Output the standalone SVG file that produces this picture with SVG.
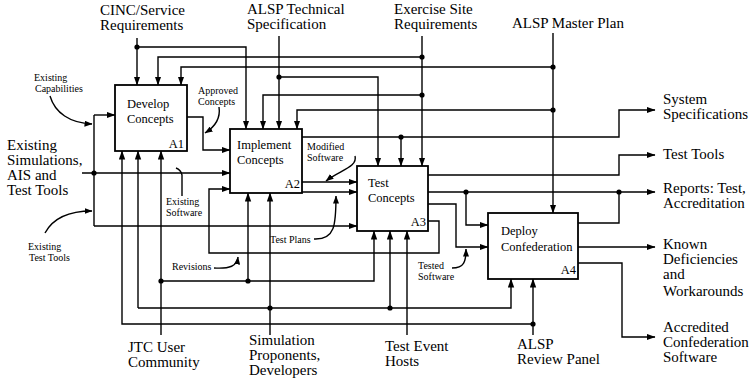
<svg xmlns="http://www.w3.org/2000/svg" width="752" height="378" viewBox="0 0 752 378">
<defs>
<marker id="ah" markerWidth="9" markerHeight="7" refX="8.5" refY="3.5" orient="auto" markerUnits="userSpaceOnUse"><path d="M0,0.3 L9,3.5 L0,6.7 Z" fill="#000"/></marker>
<marker id="ahs" markerWidth="8" markerHeight="6" refX="7.5" refY="3" orient="auto" markerUnits="userSpaceOnUse"><path d="M0,0 L8,3 L0,6 Z" fill="#000"/></marker>
</defs>
<style>
.box{fill:#fff;stroke:#000;stroke-width:1.8}
.c{fill:none;stroke:#000;stroke-width:1.4}
.a{marker-end:url(#ah)}
.ld{fill:none;stroke:#000;stroke-width:1.4;marker-end:url(#ahs)}
.dot{fill:#000}
text{font-family:"Liberation Serif","Times New Roman",serif;fill:#000}
.big{font-size:15px}
.bx{font-size:12.5px}
.sm{font-size:10px}
</style>
<rect width="752" height="378" fill="#fff"/>

<g id="connectors">
<path class="c a" d="M137,38 V85"/>
<path class="c a" d="M137,47 H246 V129"/>
<path class="c a" d="M422,36 V166"/>
<path class="c a" d="M422,57 H158 V85"/>
<path class="c a" d="M422,95 H263 V129"/>
<path class="c a" d="M279,36 V129"/>
<path class="c a" d="M279,77 H378 V166"/>
<path class="c a" d="M553,33 V213"/>
<path class="c a" d="M553,67 H181 V85"/>
<path class="c a" d="M553,110 H297 V129"/>
<path class="c a" d="M82,173 H230"/>
<path class="c" d="M94,115 V226"/>
<path class="c a" d="M94,115 H115"/>
<path class="c a" d="M94,226 H357"/>
<path class="c a" d="M187,117 H203 V150 H230"/>
<path class="c a" d="M428,221 H439 V253 H209 V189 H230"/>
<path class="c a" d="M302,182 H357"/>
<path class="c a" d="M302,192 H357"/>
<path class="c a" d="M302,137 H619 V110 H655"/>
<path class="c a" d="M401,137 V166"/>
<path class="c a" d="M428,175 H619 V155 H655"/>
<path class="c a" d="M428,192 H655"/>
<path class="c a" d="M466,192 V225 H488"/>
<path class="c" d="M578,223 H619 V192"/>
<path class="c a" d="M428,204 H456 V247 H488"/>
<path class="c a" d="M578,247 H655"/>
<path class="c a" d="M578,263 H622 V337 H655"/>
<path class="c a" d="M161,335 V151"/>
<path class="c a" d="M161,281 H374 V231"/>
<path class="c a" d="M248,281 V193"/>
<path class="c a" d="M270,335 V193"/>
<path class="c a" d="M138,308 V151"/>
<path class="c a" d="M138,308 H511 V279"/>
<path class="c a" d="M390,308 V231"/>
<path class="c a" d="M407,335 V231"/>
<path class="c a" d="M533,335 V279"/>
<path class="c a" d="M533,324 H122 V151"/>
<g class="dot">
<circle cx="137" cy="47" r="2.6"/><circle cx="422" cy="57" r="2.6"/><circle cx="422" cy="95" r="2.6"/>
<circle cx="279" cy="77" r="2.6"/><circle cx="553" cy="67" r="2.6"/><circle cx="553" cy="110" r="2.6"/>
<circle cx="94" cy="173" r="2.6"/><circle cx="401" cy="137" r="2.6"/><circle cx="466" cy="192" r="2.6"/>
<circle cx="619" cy="192" r="2.6"/><circle cx="161" cy="281" r="2.6"/><circle cx="248" cy="281" r="2.6"/>
<circle cx="270" cy="308" r="2.6"/><circle cx="390" cy="308" r="2.6"/><circle cx="533" cy="324" r="2.6"/>
</g>
<path class="ld" d="M50,96 C55,113 70,123 92,124"/>
<path class="ld" d="M219,107 C221,120 213,128 205,133"/>
<path class="ld" d="M355,156 C358,167 340,170 326,181"/>
<path class="ld" d="M314,239 C335,240 336,225 336,196"/>
<path class="ld" d="M214,268 C230,269 237,266 238,257"/>
<path class="ld" d="M452,268 C464,268 466,262 466,249"/>
<path class="ld" d="M45,233 C53,218 70,211 92,211"/>
<path class="c" d="M182,196 V175 Q181,170 176,168"/>
</g>

<g id="A1"><rect class="box" x="115" y="85" width="72" height="66"/>
<text class="bx" x="127" y="108">Develop</text><text class="bx" x="127" y="123">Concepts</text><text class="bx" x="184" y="148" text-anchor="end">A1</text></g>
<g id="A2"><rect class="box" x="230" y="129" width="72" height="64"/>
<text class="bx" x="237" y="149">Implement</text><text class="bx" x="237" y="164">Concepts</text><text class="bx" x="300" y="188" text-anchor="end">A2</text></g>
<g id="A3"><rect class="box" x="357" y="166" width="71" height="65"/>
<text class="bx" x="368" y="187">Test</text><text class="bx" x="368" y="202">Concepts</text><text class="bx" x="426" y="226" text-anchor="end">A3</text></g>
<g id="A4"><rect class="box" x="488" y="213" width="90" height="66"/>
<text class="bx" x="501" y="235">Deploy</text><text class="bx" x="501" y="251">Confederation</text><text class="bx" x="576" y="274" text-anchor="end">A4</text></g>

<g id="labels-controls">
<text class="big" x="100" y="15">CINC/Service</text><text class="big" x="100" y="30">Requirements</text>
<text class="big" x="247" y="14">ALSP Technical</text><text class="big" x="247" y="29">Specification</text>
<text class="big" x="394" y="14">Exercise Site</text><text class="big" x="394" y="29">Requirements</text>
<text class="big" x="512" y="28">ALSP Master Plan</text>
</g>
<g id="labels-inputs">
<text class="big" x="7" y="150">Existing</text><text class="big" x="7" y="165">Simulations,</text><text class="big" x="7" y="180">AIS and</text><text class="big" x="7" y="195">Test Tools</text>
</g>
<g id="labels-mechanisms">
<text class="big" x="128" y="352">JTC User</text><text class="big" x="128" y="367">Community</text>
<text class="big" x="249" y="345">Simulation</text><text class="big" x="249" y="360">Proponents,</text><text class="big" x="249" y="375">Developers</text>
<text class="big" x="385" y="351">Test Event</text><text class="big" x="385" y="366">Hosts</text>
<text class="big" x="517" y="349">ALSP</text><text class="big" x="517" y="364">Review Panel</text>
</g>
<g id="labels-outputs">
<text class="big" x="663" y="104">System</text><text class="big" x="663" y="119">Specifications</text>
<text class="big" x="663" y="159">Test Tools</text>
<text class="big" x="663" y="193">Reports: Test,</text><text class="big" x="663" y="208">Accreditation</text>
<text class="big" x="663" y="249">Known</text><text class="big" x="663" y="264">Deficiencies</text><text class="big" x="663" y="279">and</text><text class="big" x="663" y="296">Workarounds</text>
<text class="big" x="663" y="332">Accredited</text><text class="big" x="663" y="347">Confederation</text><text class="big" x="663" y="362">Software</text>
</g>
<g id="labels-arrows">
<text class="sm" x="34" y="81">Existing</text><text class="sm" x="35" y="92">Capabilities</text>
<text class="sm" x="198" y="94">Approved</text><text class="sm" x="198" y="105">Concepts</text>
<text class="sm" x="307" y="150">Modified</text><text class="sm" x="307" y="161">Software</text>
<text class="sm" x="166" y="205">Existing</text><text class="sm" x="166" y="216">Software</text>
<text class="sm" x="270" y="243">Test Plans</text>
<text class="sm" x="172" y="270">Revisions</text>
<text class="sm" x="418" y="269">Tested</text><text class="sm" x="418" y="280">Software</text>
<text class="sm" x="28" y="250">Existing</text><text class="sm" x="29" y="261">Test Tools</text>
</g>
</svg>
